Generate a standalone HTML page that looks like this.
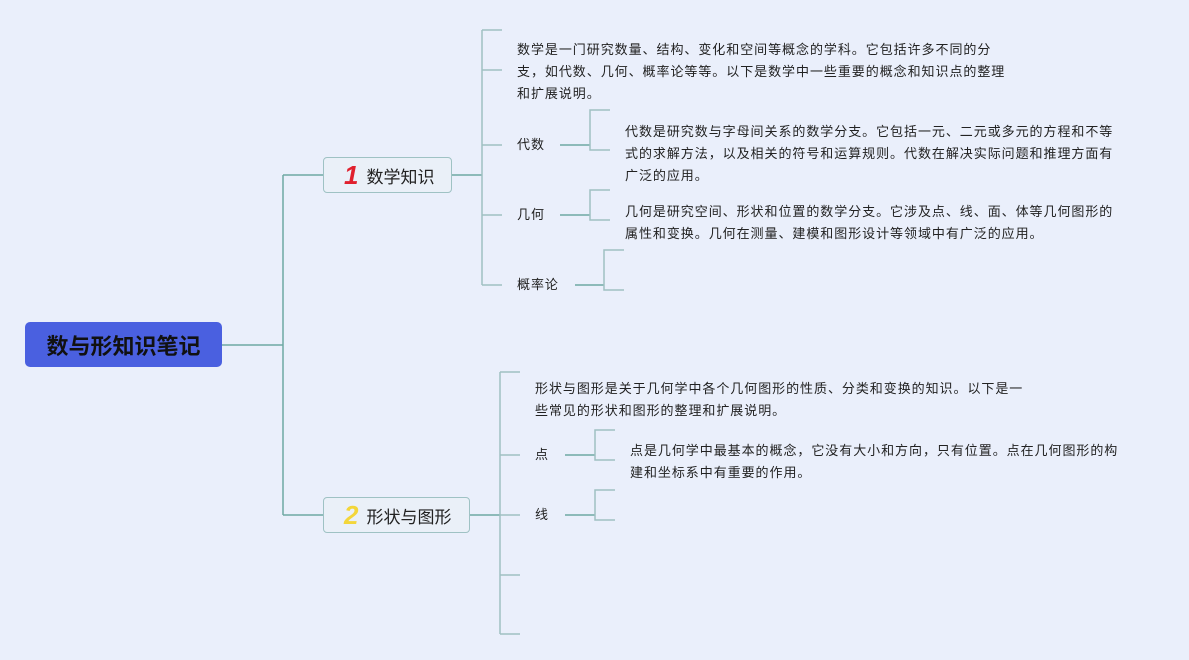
<!DOCTYPE html>
<html><head><meta charset="utf-8"><style>
body{margin:0;width:1189px;height:660px;background:#eaeffb;position:relative;overflow:hidden;font-family:"Liberation Sans","Noto Sans CJK SC",sans-serif;color:#222}
.t{position:absolute;font-size:13px;letter-spacing:0.95px;line-height:22px;white-space:nowrap}
.box{position:absolute;border:1.5px solid #9fc2c4;border-radius:4px;background:#eaf0f8;font-size:17px;box-sizing:border-box;display:flex;align-items:center}
.n{font-weight:bold;font-size:26px;margin:0 8px 0 20px;font-style:italic}
</style></head><body>
<svg width="1189" height="660" style="position:absolute;left:0;top:0" fill="none" stroke-width="1.5">
<g stroke="#6ea9a3">
<path d="M222 345H283M283 175V515M283 175H323M283 515H323M452 175H482M470 515H500"/>
<path d="M560 145H590M560 215H590M575 285H604M565 455H595M565 515H595"/>
</g>
<g stroke="#9fc0c2">
<path d="M482 30V285M482 30H502M482 70H502M482 145H502M482 215H502M482 285H502"/>
<path d="M500 372V634M500 372H520M500 455H520M500 515H520M500 575H520M500 634H520"/>
<path d="M610 110H590V150H610M610 190H590V220H610M624 250H604V290H624M615 430H595V460H615M615 490H595V520H615"/>
</g>
</svg>
<div style="position:absolute;left:25px;top:322px;width:197px;height:45px;background:#4a60e0;border-radius:5px;display:flex;align-items:center;justify-content:center;font-size:22px;font-weight:bold;color:#111">数与形知识笔记</div>
<div class="box" style="left:323px;top:157px;width:129px;height:36px"><span class="n" style="color:#e0202e">1</span>数学知识</div>
<div class="box" style="left:323px;top:497px;width:147px;height:36px"><span class="n" style="color:#f3d63a">2</span>形状与图形</div>
<div class="t" style="left:517px;top:39px">数学是一门研究数量、结构、变化和空间等概念的学科。它包括许多不同的分<br>支，如代数、几何、概率论等等。以下是数学中一些重要的概念和知识点的整理<br>和扩展说明。</div>
<div class="t" style="left:517px;top:134px">代数</div>
<div class="t" style="left:517px;top:204px">几何</div>
<div class="t" style="left:517px;top:274px">概率论</div>
<div class="t" style="left:625px;top:121px">代数是研究数与字母间关系的数学分支。它包括一元、二元或多元的方程和不等<br>式的求解方法，以及相关的符号和运算规则。代数在解决实际问题和推理方面有<br>广泛的应用。</div>
<div class="t" style="left:625px;top:201px">几何是研究空间、形状和位置的数学分支。它涉及点、线、面、体等几何图形的<br>属性和变换。几何在测量、建模和图形设计等领域中有广泛的应用。</div>
<div class="t" style="left:535px;top:378px">形状与图形是关于几何学中各个几何图形的性质、分类和变换的知识。以下是一<br>些常见的形状和图形的整理和扩展说明。</div>
<div class="t" style="left:535px;top:444px">点</div>
<div class="t" style="left:535px;top:504px">线</div>
<div class="t" style="left:630px;top:440px">点是几何学中最基本的概念，它没有大小和方向，只有位置。点在几何图形的构<br>建和坐标系中有重要的作用。</div>
</body></html>
